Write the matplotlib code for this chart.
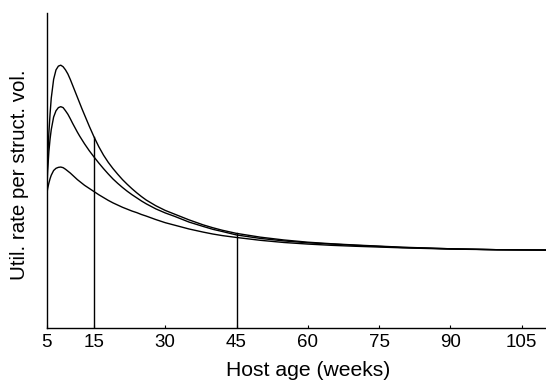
import matplotlib
matplotlib.use("Agg")
import matplotlib.pyplot as plt

plt.rcParams['font.family'] = ['Liberation Sans', 'DejaVu Sans']

weeks = [5, 5.25, 5.5, 5.75, 6, 6.5, 7, 7.5, 8, 8.5, 9, 9.5, 10, 10.5, 11, 11.5,
         12, 12.5, 13, 13.5, 14, 14.5, 15, 16, 17, 18, 19, 20, 21, 22, 23, 24, 25,
         26, 28, 30, 32, 35, 38, 40, 42, 45, 50, 55, 60, 65, 70, 80, 90, 100, 110, 115]
top_curve = [0.419, 0.54, 0.62, 0.68, 0.73,
             0.79, 0.82, 0.832, 0.835, 0.83,
             0.82, 0.807, 0.79, 0.771, 0.752,
             0.733, 0.714, 0.695, 0.677, 0.659,
             0.641, 0.624, 0.607, 0.576, 0.549,
             0.526, 0.506, 0.488, 0.471, 0.456,
             0.442, 0.429, 0.417, 0.406, 0.388,
             0.373, 0.361, 0.343, 0.327, 0.318,
             0.310, 0.300, 0.288, 0.279, 0.272,
             0.267, 0.263, 0.256, 0.251, 0.248,
             0.247, 0.247]
mid_curve = [0.419, 0.50, 0.56, 0.60, 0.63,
             0.67, 0.69, 0.70, 0.703, 0.70,
             0.69, 0.679, 0.665, 0.650, 0.636,
             0.622, 0.609, 0.597, 0.585, 0.574,
             0.563, 0.553, 0.543, 0.524, 0.506,
             0.489, 0.473, 0.459, 0.446, 0.434,
             0.423, 0.413, 0.403, 0.394, 0.378,
             0.365, 0.354, 0.336, 0.322, 0.313,
             0.306, 0.295, 0.284, 0.276, 0.270,
             0.266, 0.262, 0.255, 0.251, 0.248,
             0.247, 0.247]
low_curve = [0.419, 0.443, 0.46, 0.474, 0.485,
             0.50, 0.507, 0.51, 0.511, 0.509,
             0.504, 0.498, 0.492, 0.485, 0.478,
             0.471, 0.465, 0.459, 0.453, 0.448,
             0.443, 0.438, 0.433, 0.423, 0.414,
             0.405, 0.397, 0.390, 0.383, 0.377,
             0.371, 0.366, 0.360, 0.355, 0.344,
             0.334, 0.326, 0.314, 0.304, 0.298,
             0.293, 0.287, 0.278, 0.271, 0.266,
             0.262, 0.259, 0.254, 0.250, 0.248,
             0.247, 0.247]
marker_weeks = [15, 45]
xticks = [5, 15, 30, 45, 60, 75, 90, 105]

fig = plt.figure(figsize=(5.46, 3.85), dpi=100)
ax = fig.add_axes([46.5 / 546, (385 - 327.7) / 385, 522.5 / 546, 314.4 / 385])

for ys in (top_curve, mid_curve, low_curve):
    ax.plot(weeks, ys, color='black', lw=1.0, solid_joinstyle='round')

for mw in marker_weeks:
    ytop = top_curve[weeks.index(mw)]
    ax.plot([mw, mw], [0, ytop], color='black', lw=1.0)

ax.set_xlim(5, 115)
ax.set_ylim(0, 1)
ax.set_xticks(xticks)
ax.set_xticklabels([str(t) for t in xticks])
ax.set_yticks([])
ax.tick_params(axis='x', direction='in', length=2.5, width=0.8, pad=4.8,
               labelsize=13.5, colors='black')
for s in ('top', 'right'):
    ax.spines[s].set_visible(False)
for s in ('left', 'bottom'):
    ax.spines[s].set_linewidth(1.0)

ax.set_xlabel('Host age (weeks)', fontsize=15.2)
ax.xaxis.set_label_coords(0.5, -0.106)
ax.set_ylabel('Util. rate per struct. vol.', fontsize=14.8)
ax.yaxis.set_label_coords(-0.034, 0.488)

fig.savefig('out.png', dpi=100)
